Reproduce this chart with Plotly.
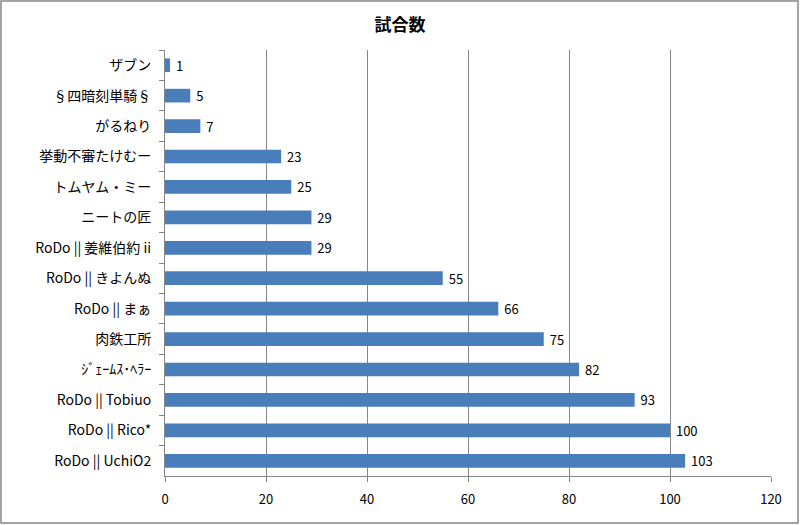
import plotly.graph_objects as go

categories = ["ザブン", "§四暗刻単騎§", "がるねり", "挙動不審たけむー", "トムヤム・ミー", "ニートの匠",
              "RoDo || 姜維伯約 ii", "RoDo || きよんぬ", "RoDo || まぁ", "肉鉄工所",
              "ｼﾞｪｰﾑｽ･ﾍﾗｰ", "RoDo || Tobiuo", "RoDo || Rico*", "RoDo || UchiO2"]
values = [1, 5, 7, 23, 25, 29, 29, 55, 66, 75, 82, 93, 100, 103]
x_ticks = [0, 20, 40, 60, 80, 100, 120]

W, H = 800, 525
L, R, T, B = 165, 29, 50, 49
pw, ph = W - L - R, H - T - B

font = "Noto Sans CJK JP, Liberation Sans, sans-serif"

fig = go.Figure(go.Bar(
    y=categories, x=values, orientation="h",
    marker=dict(color="#4A7EBB", line=dict(width=0)),
    width=0.45,
    text=[" " + str(v) for v in values], textposition="outside",
    textfont=dict(size=13, color="#000000", family=font),
    constraintext="none",
    cliponaxis=False,
))

fig.update_layout(
    width=W, height=H,
    margin=dict(l=L, r=R, t=T, b=B),
    paper_bgcolor="white", plot_bgcolor="white",
    showlegend=False,
    title=dict(text="<b>試合数</b>", x=0.5, xanchor="center", y=1 - 25 / H, yanchor="middle",
               font=dict(size=17, color="#000000", family=font)),
    xaxis=dict(range=[0, 120], tickvals=x_ticks, showgrid=True, gridcolor="#868686", gridwidth=1,
               zeroline=False, showline=True, linecolor="#868686", ticks="outside", ticklen=5,
               tickcolor="#868686", ticklabelstandoff=6,
               tickfont=dict(size=13, color="#000000", family=font), mirror=False),
    yaxis=dict(type="category", categoryorder="array", categoryarray=categories, autorange="reversed",
               showgrid=False, showline=True, linecolor="#868686", ticks="outside", ticklen=5,
               tickcolor="#868686", tickson="boundaries", ticklabelstandoff=10,
               tickfont=dict(size=14, color="#000000", family=font)),
    bargap=0.55,
    shapes=[dict(type="rect", xref="paper", yref="paper",
                 x0=(1 - L) / pw, x1=(W - 2 - L) / pw,
                 y0=-(B - 2) / ph, y1=1 + (T - 1) / ph,
                 line=dict(color="#868686", width=1.5), fillcolor="rgba(0,0,0,0)")],
)

fig.write_html("out.html")
